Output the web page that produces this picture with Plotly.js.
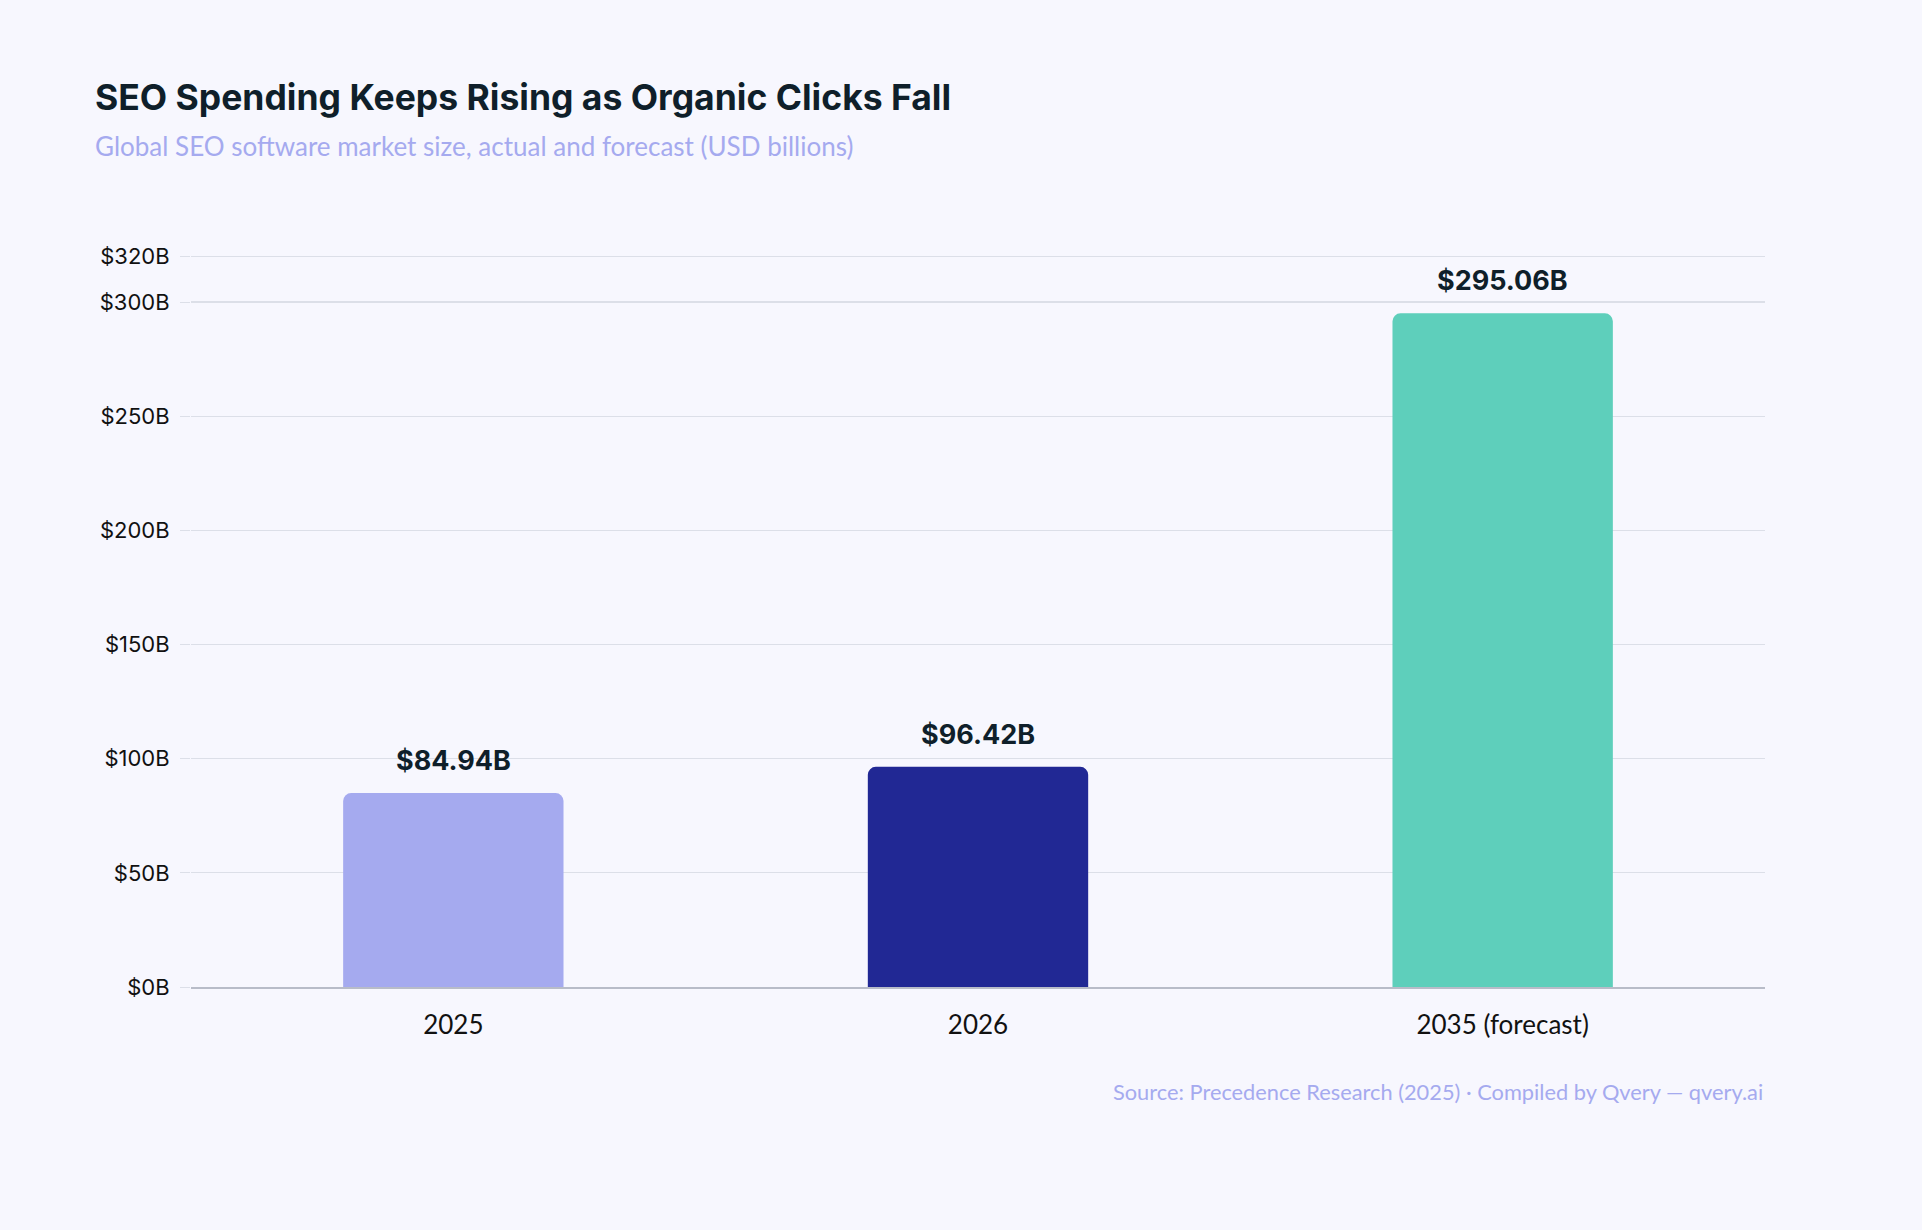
<!DOCTYPE html>
<html>
<head>
<meta charset="utf-8">
<script src="https://cdn.plot.ly/plotly-3.0.1.min.js"></script>
<style>
  html, body { margin: 0; padding: 0; background: #f7f7fe; }
  #chart { width: 1922px; height: 1230px; }
</style>
</head>
<body>
<div id="chart"></div>
<script>
const CATEGORIES = ['2025', '2026', '2035 (forecast)'];
const VALUES = [84.94, 96.42, 295.06];
const LABELS = ['$84.94B', '$96.42B', '$295.06B'];
const BAR_COLORS = ['#a5aaef', '#212894', '#5ecfbb'];
const TICK_VALS = [0, 50, 100, 150, 200, 250, 300, 320];
const TICK_TEXT = ['$0B', '$50B', '$100B', '$150B', '$200B', '$250B', '$300B', '$320B'];

const trace = {
  type: 'bar',
  x: CATEGORIES,
  y: VALUES,
  marker: { color: BAR_COLORS, cornerradius: 8 },
  width: 0.42,
  hoverinfo: 'skip',
};

// value labels sit a bit higher above the bars than Plotly's outside text
// (x given as category index so the axis keeps its category type)
const valueNotes = CATEGORIES.map((c, i) => ({
  x: i, y: VALUES[i], xref: 'x', yref: 'y',
  yanchor: 'bottom', yshift: 14, showarrow: false,
  text: '<b>' + LABELS[i] + '</b>',
  font: { family: 'Inter, sans-serif', size: 27, color: '#0f1f2a' },
}));

const layout = {
  width: 1922, height: 1230,
  paper_bgcolor: '#f7f7fe',
  plot_bgcolor: '#f7f7fe',
  margin: { l: 191, r: 157, t: 255, b: 243 },
  showlegend: false,
  xaxis: {
    type: 'category',
    categoryarray: CATEGORIES,
    range: [-0.5, 2.5],
    tickfont: { family: 'Lato, sans-serif', size: 26, color: '#111' },
    showline: true, linecolor: '#b8bcc8', linewidth: 1.5,
    ticks: '', ticklen: 0,
    ticklabelstandoff: 14,
  },
  yaxis: {
    range: [0, 320.6],
    tickvals: TICK_VALS, ticktext: TICK_TEXT,
    tickfont: { family: 'Inter, sans-serif', size: 22, color: '#111' },
    gridcolor: '#dcdfe8', gridwidth: 1.2,
    zeroline: false,
    ticks: 'outside', ticklen: 10, tickcolor: '#dcdfe8',
    ticklabelstandoff: 6,
  },
  annotations: [
    ...valueNotes,
    { xref: 'paper', yref: 'paper', x: -0.062, y: 1.215, xanchor: 'left', yanchor: 'middle',
      showarrow: false, text: '<b>SEO Spending Keeps Rising as Organic Clicks Fall</b>',
      font: { family: 'Inter, sans-serif', size: 35.5, color: '#0f1f2a' } },
    { xref: 'paper', yref: 'paper', x: -0.062, y: 1.149, xanchor: 'left', yanchor: 'middle',
      showarrow: false, text: 'Global SEO software market size, actual and forecast (USD billions)',
      font: { family: 'Lato, sans-serif', size: 26, color: '#a5aaef' } },
    { xref: 'paper', yref: 'paper', x: 1, y: -0.143, xanchor: 'right', yanchor: 'middle',
      showarrow: false, text: 'Source: Precedence Research (2025) · Compiled by Qvery — qvery.ai',
      font: { family: 'Lato, sans-serif', size: 21.8, color: '#a5aaef' } },
  ],
};

Plotly.newPlot('chart', [trace], layout, { displayModeBar: false, staticPlot: true });
</script>
</body>
</html>
